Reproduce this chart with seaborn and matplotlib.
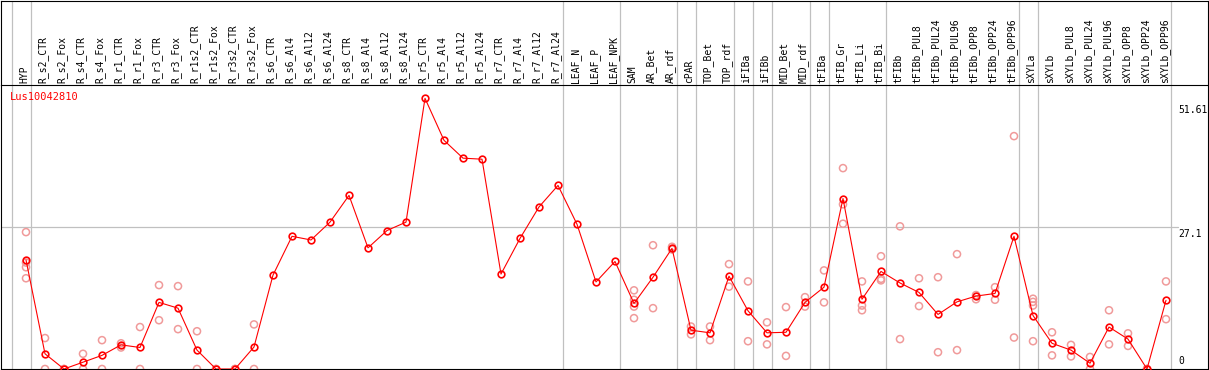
import pandas as pd
import matplotlib.pyplot as plt
import seaborn as sns

# sample names, left to right
samples = ['HYP', 'R_s2_CTR', 'R_s2_Fox', 'R_s4_CTR', 'R_s4_Fox', 'R_r1_CTR', 'R_r1_Fox',
           'R_r3_CTR', 'R_r3_Fox', 'R_r1s2_CTR', 'R_r1s2_Fox', 'R_r3s2_CTR', 'R_r3s2_Fox',
           'R_s6_CTR', 'R_s6_Al4', 'R_s6_Al12', 'R_s6_Al24', 'R_s8_CTR', 'R_s8_Al4',
           'R_s8_Al12', 'R_s8_Al24', 'R_r5_CTR', 'R_r5_Al4', 'R_r5_Al12', 'R_r5_Al24',
           'R_r7_CTR', 'R_r7_Al4', 'R_r7_Al12', 'R_r7_Al24', 'LEAF_N', 'LEAF_P', 'LEAF_NPK',
           'SAM', 'AR_Bet', 'AR_rdf', 'cPAR', 'TOP_Bet', 'TOP_rdf', 'iFIBa', 'iFIBb',
           'MID_Bet', 'MID_rdf', 'tFIBa', 'tFIB_Gr', 'tFIB_Li', 'tFIB_Bi', 'tFIBb',
           'tFIBb_PUL8', 'tFIBb_PUL24', 'tFIBb_PUL96', 'tFIBb_OPP8', 'tFIBb_OPP24',
           'tFIBb_OPP96', 'sXYLa', 'sXYLb', 'sXYLb_PUL8', 'sXYLb_PUL24', 'sXYLb_PUL96',
           'sXYLb_OPP8', 'sXYLb_OPP24', 'sXYLb_OPP96']

# number of samples in each tissue group (separated by grey lines)
group_sizes = [1, 28, 3, 3, 1, 2, 1, 1, 2, 1, 3, 7, 1, 7]

# mean expression per sample
means = [20.8, 2.9, 0.0, 1.3, 2.6, 4.6, 4.1, 12.7, 11.6, 3.6, 0.0, 0.0, 4.2,
         17.9, 25.3, 24.6, 28.0, 33.1, 23.1, 26.4, 28.0, 51.61, 43.6, 40.2, 40.0,
         18.1, 24.9, 30.9, 35.0, 27.6, 16.6, 20.5,
         12.5, 17.5, 23.0, 7.4, 6.9, 17.7, 11.1, 6.9, 7.0, 12.7,
         15.6, 32.5, 13.3, 18.6, 16.4, 14.6, 10.4, 12.8, 13.9, 14.4, 25.3,
         10.2, 4.9, 3.6, 1.1, 8.0, 5.7, 0.0, 13.1]

# individual replicates per sample
replicates = [
    [26.1, 20.3, 19.4, 17.3], [5.9, 0.0], [0.0, 0.0], [2.9, 0.0], [5.5, 0.0],
    [4.9, 4.1], [8.0, 0.0], [16.0, 9.3], [15.8, 7.6], [7.2, 0.0], [0.0, 0.0],
    [0.0, 0.0], [8.5, 0.0],
    [], [], [], [], [], [], [], [], [], [], [], [], [], [], [], [], [], [], [],
    [15.0, 13.2, 11.9, 9.7], [23.6, 11.6], [23.3, 22.8], [8.1, 6.6], [8.1, 5.5],
    [20.0, 15.7], [16.7, 5.3], [8.9, 4.7], [11.8, 2.5], [13.7, 11.9],
    [18.8, 12.7], [38.3, 31.4, 27.7], [16.7, 12.1, 11.2], [21.5, 17.2, 16.9],
    [27.2, 5.7], [17.3, 12.0], [17.5, 3.2], [21.9, 3.6], [14.1, 13.3],
    [15.6, 13.2], [44.4, 6.0],
    [13.4, 12.8, 12.1, 5.3], [7.0, 2.6], [4.6, 2.4], [2.3, 0.0], [11.2, 4.7],
    [6.8, 4.4], [0.0, 0.0], [16.7, 9.5],
]

gene = 'Lus10042810'
y_ticks = [51.61, 27.1, 0]

sns.set_theme(style='white')
plt.rcParams['font.family'] = ['DejaVu Sans Mono', 'DejaVu Sans']

mean_df = pd.DataFrame({'pos': range(len(samples)), 'value': means})
rep_df = pd.DataFrame([(i, v) for i, reps in enumerate(replicates) for v in reps],
                      columns=['pos', 'value'])

W, H = 1209, 370
fig = plt.figure(figsize=(W / 100, H / 100), dpi=100)
ax_head = fig.add_axes([1 / W, 285 / H, 1207 / W, 84.5 / H])
ax = fig.add_axes([1 / W, 1 / H, 1207 / W, 284 / H])

# 19 px per sample, first sample 26 px from the left edge
xlim = ((1 - 26) / 19, (1208 - 26) / 19)
for a in (ax, ax_head):
    a.set_xlim(*xlim)
    a.set_xticks([])
    a.set_yticks([])
    for s in a.spines.values():
        s.set_color('black')
        s.set_linewidth(0.8)
ax_head.spines['bottom'].set_visible(False)
ax_head.set_ylim(0, 84.5)
ax.set_ylim(0, 284 / 5.245)

# group separators
edge = -1
seps = [edge + 0.24]
for n in group_sizes:
    edge += n
    seps.append(edge + 0.24)
for xs in seps:
    ax.axvline(xs, color='#c0c0c0', lw=0.9, zorder=0)
    ax_head.axvline(xs, color='#c0c0c0', lw=0.9, zorder=0)
ax.axhline(y_ticks[1], xmax=1177 / 1207, color='#c0c0c0', lw=0.9, zorder=0)

# sample labels
for i, name in enumerate(samples):
    ax_head.text(i - 0.1, 2, name, rotation=90, ha='center', va='bottom',
                 fontsize=7, color='black')

# replicates then mean line
sns.scatterplot(data=rep_df, x='pos', y='value', ax=ax, marker='o', s=26,
                facecolors='none', edgecolor='#f09a9a', linewidth=1.1, zorder=2,
                legend=False)
sns.lineplot(data=mean_df, x='pos', y='value', ax=ax, color='red', lw=0.8,
             marker='o', markersize=4.8, mfc='none', mec='red', mew=1.2, zorder=3)
ax.set_xlabel('')
ax.set_ylabel('')

ax.text(9 / 1207, 1 - 12 / 284, gene, transform=ax.transAxes, ha='left',
        va='center', fontsize=7.5, color='red')

# value labels on the right
offsets = [-7, -2, 3]
for v, off in zip(y_ticks, offsets):
    ax.annotate(f'{v:g}', xy=(1177 / 1207, v), xycoords=('axes fraction', 'data'),
                xytext=(0, off), textcoords='offset pixels', ha='left',
                va='top' if v > 0 else 'bottom', fontsize=7, color='black',
                annotation_clip=False)

plt.savefig('out.png', dpi=100)
